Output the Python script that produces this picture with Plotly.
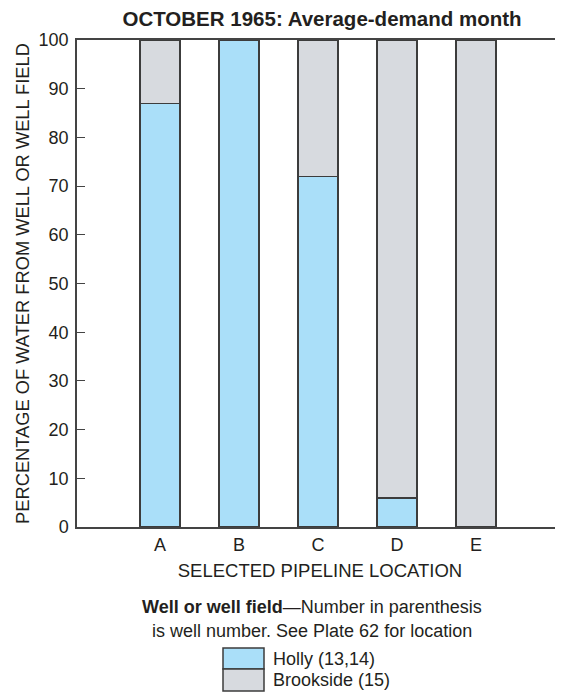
import plotly.graph_objects as go

locations = ["A", "B", "C", "D", "E"]
holly = [87, 100, 72, 6, 0]
brookside = [13, 0, 28, 94, 100]
y_ticks = [0, 10, 20, 30, 40, 50, 60, 70, 80, 90, 100]

BLUE = "#aadff9"
GRAY = "#d7dadf"
EDGE = "#3c3c3c"
FONT = "Arial, Liberation Sans, sans-serif"

xpos = list(range(len(locations)))

fig = go.Figure()
fig.add_bar(x=xpos, y=holly, name="Holly (13,14)", marker=dict(color=BLUE, line=dict(color=EDGE, width=1.5)),
            width=0.51, showlegend=False)
fig.add_bar(x=xpos, y=brookside, name="Brookside (15)", marker=dict(color=GRAY, line=dict(color=EDGE, width=1.5)),
            width=0.51, showlegend=False)

OFF = 8  # page body margin
W, H = 563 - OFF, 693 - OFF
L, R, T, B = 77 - OFF, 0, 40 - OFF, 166
pw, ph = W - L - R, H - T - B


def px(sx):
    return (sx - OFF - L) / pw


def py(sy):
    return (H - B - (sy - OFF)) / ph


fig.update_layout(
    barmode="stack",
    width=W, height=H,
    margin=dict(l=L, r=R, t=T, b=B, pad=0),
    paper_bgcolor="white", plot_bgcolor="white",
    font=dict(family=FONT, size=18, color="#231f20"),
    title=dict(text="<b>OCTOBER 1965: Average-demand month</b>", x=px(322), xref="paper",
               y=1 - (19 - OFF) / H, yanchor="middle", xanchor="center", font=dict(size=20.5)),
    xaxis=dict(tickmode="array", tickvals=xpos, ticktext=locations, range=[-1.05, 5.1],
               showline=True, linecolor="#444", linewidth=1.5, mirror=True, ticks="",
               showgrid=False, zeroline=False, ticklabelstandoff=1,
               title=dict(text="SELECTED PIPELINE LOCATION", standoff=10, font=dict(size=18.5))),
    yaxis=dict(range=[0, 100], tickvals=y_ticks, showline=True, linecolor="#444", linewidth=1.5,
               ticks="inside", ticklen=8, tickcolor="#444", tickwidth=1.2, showgrid=False, zeroline=False,
               ticklabelstandoff=3,
               title=dict(text="PERCENTAGE OF WATER FROM WELL OR WELL FIELD", standoff=4,
                          font=dict(size=18.3))),
    yaxis2=dict(range=[0, 100], tickvals=y_ticks, overlaying="y", side="right", showline=False,
                ticks="inside", ticklen=8, tickcolor="#444", tickwidth=1.2, showticklabels=False,
                showgrid=False, zeroline=False),
    showlegend=False,
)

# invisible trace so the right-side tick axis is drawn
fig.add_scatter(x=[xpos[0]], y=[0], yaxis="y2", mode="markers", marker=dict(opacity=0),
                hoverinfo="skip", showlegend=False)

# legend explanation text
fig.add_annotation(text="<b>Well or well field</b>\u2014Number in parenthesis", x=px(312), y=py(607),
                   xref="paper", yref="paper", showarrow=False, xanchor="center", yanchor="middle",
                   font=dict(size=18))
fig.add_annotation(text="is well number. See Plate 62 for location", x=px(312), y=py(631),
                   xref="paper", yref="paper", showarrow=False, xanchor="center", yanchor="middle",
                   font=dict(size=18))

legend_items = [("Holly (13,14)", BLUE, 648, 669), ("Brookside (15)", GRAY, 669, 691)]
for label, color, y0, y1 in legend_items:
    fig.add_shape(type="rect", xref="paper", yref="paper", x0=px(223), x1=px(264), y0=py(y1), y1=py(y0),
                  fillcolor=color, line=dict(color=EDGE, width=1.5))
    fig.add_annotation(text=label, x=px(271), y=py((y0 + y1) / 2), xref="paper", yref="paper",
                       showarrow=False, xanchor="left", yanchor="middle", font=dict(size=18))

fig.write_html("out.html")
